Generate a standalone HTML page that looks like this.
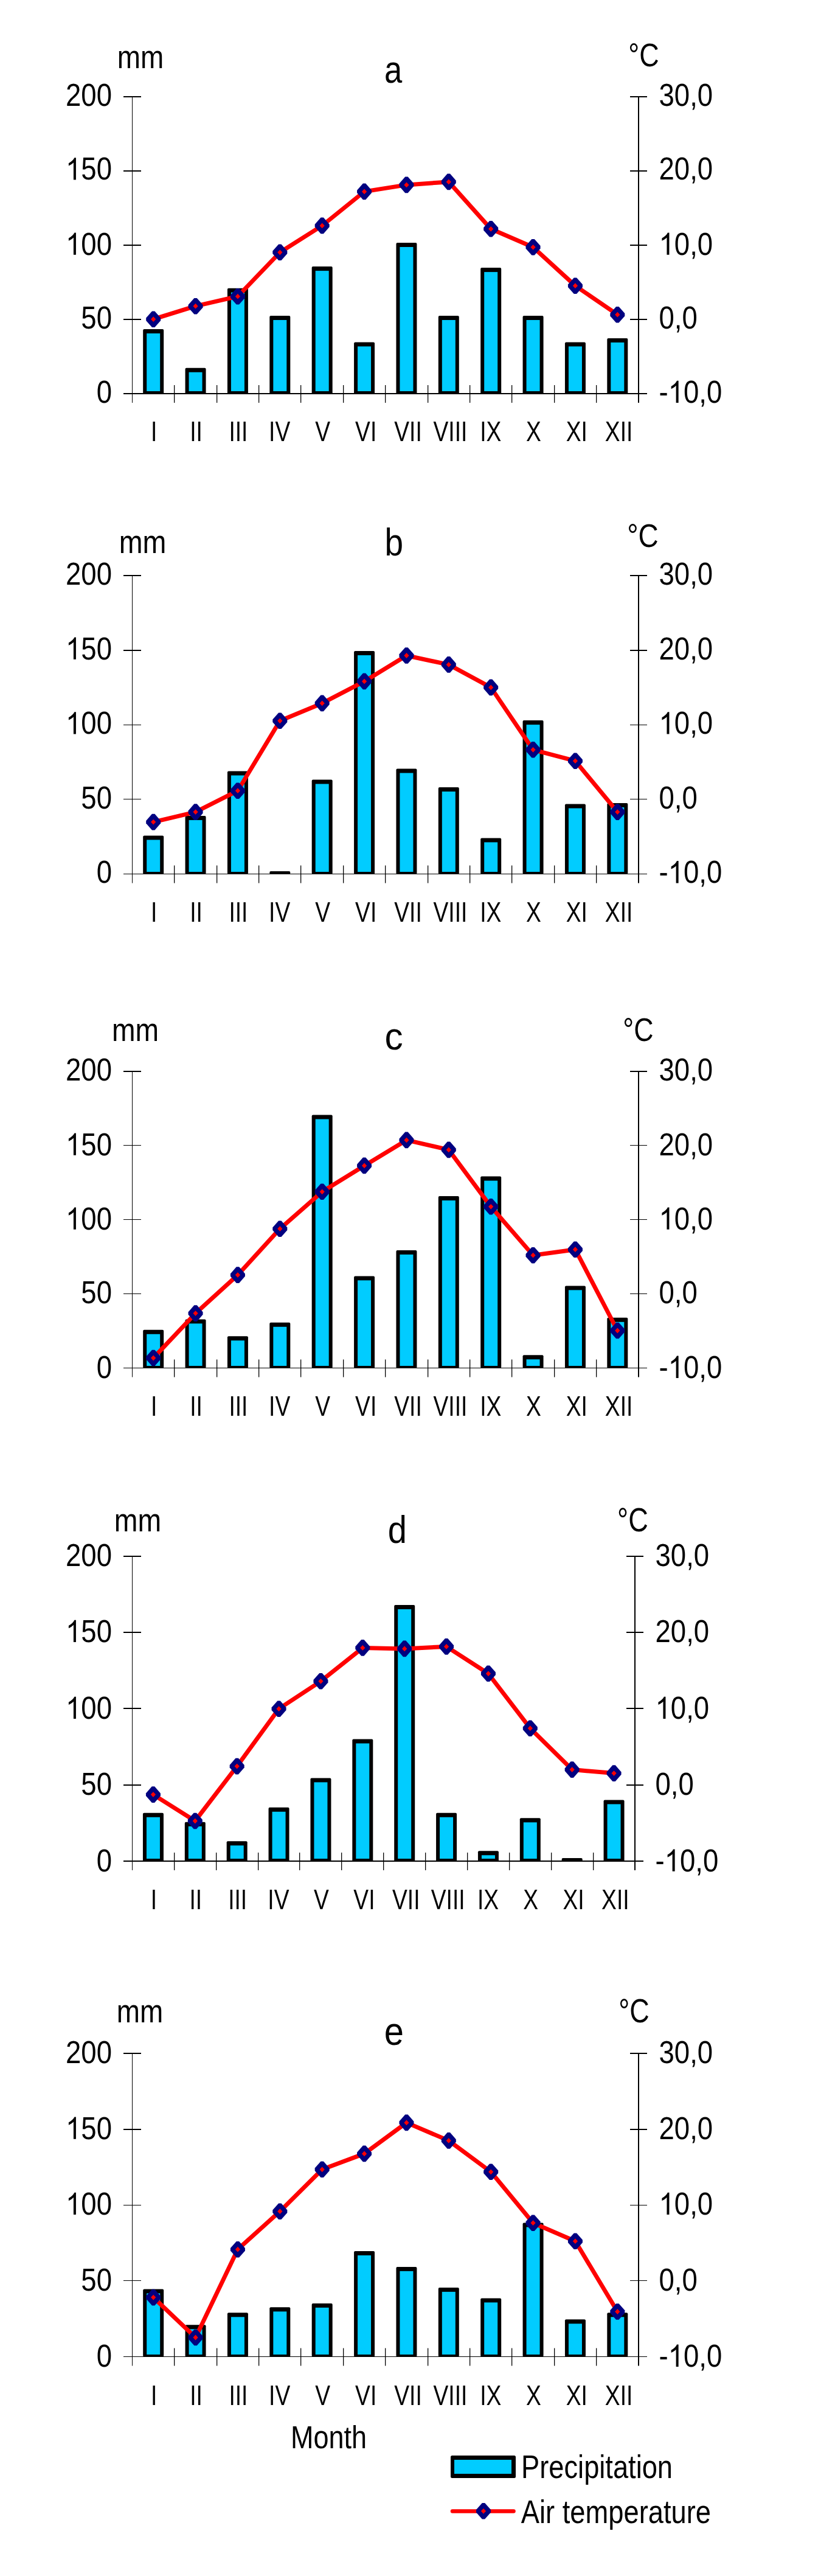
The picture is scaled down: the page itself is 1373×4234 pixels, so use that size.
<!DOCTYPE html>
<html><head><meta charset="utf-8"><style>
html,body{margin:0;padding:0;background:#fff;}
svg{display:block;}
text{font-family:"Liberation Sans",sans-serif;fill:#000;}
</style></head><body>
<svg width="1373" height="4234" viewBox="0 0 1373 4234">
<rect width="1373" height="4234" fill="#fff"/>
<g opacity="0.999">
<rect x="217.00" y="158.00" width="1.00" height="504.00" fill="#000"/>
<rect x="1049.00" y="158.00" width="2.00" height="504.00" fill="#000"/>
<rect x="203.00" y="158.00" width="29.00" height="2.00" fill="#000"/>
<rect x="1036.00" y="158.00" width="28.00" height="2.00" fill="#000"/>
<rect x="203.00" y="280.00" width="29.00" height="2.00" fill="#000"/>
<rect x="1036.00" y="280.00" width="28.00" height="2.00" fill="#000"/>
<rect x="203.00" y="402.00" width="29.00" height="2.00" fill="#000"/>
<rect x="1036.00" y="402.00" width="28.00" height="2.00" fill="#000"/>
<rect x="203.00" y="524.00" width="29.00" height="2.00" fill="#000"/>
<rect x="1036.00" y="524.00" width="28.00" height="2.00" fill="#000"/>
<rect x="203.00" y="646.00" width="861.00" height="2.00" fill="#000"/>
<rect x="286.00" y="633.00" width="1.30" height="29.00" fill="#000"/>
<rect x="356.00" y="633.00" width="1.30" height="29.00" fill="#000"/>
<rect x="425.00" y="633.00" width="1.30" height="29.00" fill="#000"/>
<rect x="494.00" y="633.00" width="1.30" height="29.00" fill="#000"/>
<rect x="564.00" y="633.00" width="1.30" height="29.00" fill="#000"/>
<rect x="633.00" y="633.00" width="1.30" height="29.00" fill="#000"/>
<rect x="703.00" y="633.00" width="1.30" height="29.00" fill="#000"/>
<rect x="772.00" y="633.00" width="1.30" height="29.00" fill="#000"/>
<rect x="841.00" y="633.00" width="1.30" height="29.00" fill="#000"/>
<rect x="911.00" y="633.00" width="1.30" height="29.00" fill="#000"/>
<rect x="980.00" y="633.00" width="1.30" height="29.00" fill="#000"/>
<rect x="235.19" y="541.00" width="34" height="107.00" rx="2" fill="#000"/>
<rect x="241.19" y="548.00" width="22.00" height="95.00" fill="#00ccff"/>
<rect x="304.56" y="604.80" width="34" height="43.20" rx="2" fill="#000"/>
<rect x="310.56" y="611.80" width="22.00" height="31.20" fill="#00ccff"/>
<rect x="373.94" y="473.70" width="34" height="174.30" rx="2" fill="#000"/>
<rect x="379.94" y="480.70" width="22.00" height="162.30" fill="#00ccff"/>
<rect x="443.31" y="519.00" width="34" height="129.00" rx="2" fill="#000"/>
<rect x="449.31" y="526.00" width="22.00" height="117.00" fill="#00ccff"/>
<rect x="512.69" y="438.10" width="34" height="209.90" rx="2" fill="#000"/>
<rect x="518.69" y="445.10" width="22.00" height="197.90" fill="#00ccff"/>
<rect x="582.06" y="562.40" width="34" height="85.60" rx="2" fill="#000"/>
<rect x="588.06" y="569.40" width="22.00" height="73.60" fill="#00ccff"/>
<rect x="651.44" y="399.00" width="34" height="249.00" rx="2" fill="#000"/>
<rect x="657.44" y="406.00" width="22.00" height="237.00" fill="#00ccff"/>
<rect x="720.81" y="519.00" width="34" height="129.00" rx="2" fill="#000"/>
<rect x="726.81" y="526.00" width="22.00" height="117.00" fill="#00ccff"/>
<rect x="790.19" y="440.10" width="34" height="207.90" rx="2" fill="#000"/>
<rect x="796.19" y="447.10" width="22.00" height="195.90" fill="#00ccff"/>
<rect x="859.56" y="519.00" width="34" height="129.00" rx="2" fill="#000"/>
<rect x="865.56" y="526.00" width="22.00" height="117.00" fill="#00ccff"/>
<rect x="928.94" y="562.40" width="34" height="85.60" rx="2" fill="#000"/>
<rect x="934.94" y="569.40" width="22.00" height="73.60" fill="#00ccff"/>
<rect x="998.31" y="555.90" width="34" height="92.10" rx="2" fill="#000"/>
<rect x="1004.31" y="562.90" width="22.00" height="80.10" fill="#00ccff"/>
<polyline points="252.19,524.70 321.56,503.20 390.94,487.20 460.31,414.80 529.69,370.90 599.06,314.90 668.44,303.90 737.81,298.90 807.19,376.30 876.56,406.30 945.94,469.70 1015.31,517.20" fill="none" stroke="#ff0000" stroke-width="7" stroke-linejoin="round"/>
<polygon points="249.99,511.40 254.39,511.40 264.19,522.50 264.19,526.90 254.39,538.00 249.99,538.00 240.19,526.90 240.19,522.50" fill="#000080"/>
<polygon points="252.19,520.30 256.29,524.70 252.19,529.10 248.09,524.70" fill="#ff0000"/>
<polygon points="319.36,489.90 323.76,489.90 333.56,501.00 333.56,505.40 323.76,516.50 319.36,516.50 309.56,505.40 309.56,501.00" fill="#000080"/>
<polygon points="321.56,498.80 325.66,503.20 321.56,507.60 317.46,503.20" fill="#ff0000"/>
<polygon points="388.74,473.90 393.14,473.90 402.94,485.00 402.94,489.40 393.14,500.50 388.74,500.50 378.94,489.40 378.94,485.00" fill="#000080"/>
<polygon points="390.94,482.80 395.04,487.20 390.94,491.60 386.84,487.20" fill="#ff0000"/>
<polygon points="458.11,401.50 462.51,401.50 472.31,412.60 472.31,417.00 462.51,428.10 458.11,428.10 448.31,417.00 448.31,412.60" fill="#000080"/>
<polygon points="460.31,410.40 464.41,414.80 460.31,419.20 456.21,414.80" fill="#ff0000"/>
<polygon points="527.49,357.60 531.89,357.60 541.69,368.70 541.69,373.10 531.89,384.20 527.49,384.20 517.69,373.10 517.69,368.70" fill="#000080"/>
<polygon points="529.69,366.50 533.79,370.90 529.69,375.30 525.59,370.90" fill="#ff0000"/>
<polygon points="596.86,301.60 601.26,301.60 611.06,312.70 611.06,317.10 601.26,328.20 596.86,328.20 587.06,317.10 587.06,312.70" fill="#000080"/>
<polygon points="599.06,310.50 603.16,314.90 599.06,319.30 594.96,314.90" fill="#ff0000"/>
<polygon points="666.24,290.60 670.64,290.60 680.44,301.70 680.44,306.10 670.64,317.20 666.24,317.20 656.44,306.10 656.44,301.70" fill="#000080"/>
<polygon points="668.44,299.50 672.54,303.90 668.44,308.30 664.34,303.90" fill="#ff0000"/>
<polygon points="735.61,285.60 740.01,285.60 749.81,296.70 749.81,301.10 740.01,312.20 735.61,312.20 725.81,301.10 725.81,296.70" fill="#000080"/>
<polygon points="737.81,294.50 741.91,298.90 737.81,303.30 733.71,298.90" fill="#ff0000"/>
<polygon points="804.99,363.00 809.39,363.00 819.19,374.10 819.19,378.50 809.39,389.60 804.99,389.60 795.19,378.50 795.19,374.10" fill="#000080"/>
<polygon points="807.19,371.90 811.29,376.30 807.19,380.70 803.09,376.30" fill="#ff0000"/>
<polygon points="874.36,393.00 878.76,393.00 888.56,404.10 888.56,408.50 878.76,419.60 874.36,419.60 864.56,408.50 864.56,404.10" fill="#000080"/>
<polygon points="876.56,401.90 880.66,406.30 876.56,410.70 872.46,406.30" fill="#ff0000"/>
<polygon points="943.74,456.40 948.14,456.40 957.94,467.50 957.94,471.90 948.14,483.00 943.74,483.00 933.94,471.90 933.94,467.50" fill="#000080"/>
<polygon points="945.94,465.30 950.04,469.70 945.94,474.10 941.84,469.70" fill="#ff0000"/>
<polygon points="1013.11,503.90 1017.51,503.90 1027.31,515.00 1027.31,519.40 1017.51,530.50 1013.11,530.50 1003.31,519.40 1003.31,515.00" fill="#000080"/>
<polygon points="1015.31,512.80 1019.41,517.20 1015.31,521.60 1011.21,517.20" fill="#ff0000"/>
<text transform="translate(107.94,173.58) scale(0.8650,1)" font-size="52.70">200</text>
<text transform="translate(1083.47,173.58) scale(0.8650,1)" font-size="52.70">30,0</text>
<path transform="translate(107.94,295.48) scale(0.02226,-0.02463)" d="M763,0L583,0L583,1147C540,1106 483,1064 413,1023C342,982 279,951 223,930L223,1104C324,1151 412,1209 487,1276C562,1343 615,1409 646,1472L763,1472Z"/>
<text transform="translate(133.29,295.48) scale(0.8650,1)" font-size="52.70">5</text>
<text transform="translate(158.65,295.48) scale(0.8650,1)" font-size="52.70">0</text>
<text transform="translate(1083.47,295.48) scale(0.8650,1)" font-size="52.70">20,0</text>
<path transform="translate(107.94,418.68) scale(0.02226,-0.02463)" d="M763,0L583,0L583,1147C540,1106 483,1064 413,1023C342,982 279,951 223,930L223,1104C324,1151 412,1209 487,1276C562,1343 615,1409 646,1472L763,1472Z"/>
<text transform="translate(133.29,418.68) scale(0.8650,1)" font-size="52.70">0</text>
<text transform="translate(158.65,418.68) scale(0.8650,1)" font-size="52.70">0</text>
<path transform="translate(1083.47,418.68) scale(0.02226,-0.02463)" d="M763,0L583,0L583,1147C540,1106 483,1064 413,1023C342,982 279,951 223,930L223,1104C324,1151 412,1209 487,1276C562,1343 615,1409 646,1472L763,1472Z"/>
<text transform="translate(1108.82,418.68) scale(0.8650,1)" font-size="52.70">0</text>
<text transform="translate(1134.17,418.68) scale(0.8650,1)" font-size="52.70">,</text>
<text transform="translate(1146.84,418.68) scale(0.8650,1)" font-size="52.70">0</text>
<text transform="translate(133.29,540.38) scale(0.8650,1)" font-size="52.70">50</text>
<text transform="translate(1083.47,540.38) scale(0.8650,1)" font-size="52.70">0,0</text>
<text transform="translate(158.63,662.08) scale(0.8650,1)" font-size="52.70">0</text>
<text transform="translate(1083.47,662.08) scale(0.8650,1)" font-size="52.70">-</text>
<path transform="translate(1098.65,662.08) scale(0.02226,-0.02463)" d="M763,0L583,0L583,1147C540,1106 483,1064 413,1023C342,982 279,951 223,930L223,1104C324,1151 412,1209 487,1276C562,1343 615,1409 646,1472L763,1472Z"/>
<text transform="translate(1124.00,662.08) scale(0.8650,1)" font-size="52.70">0</text>
<text transform="translate(1149.35,662.08) scale(0.8650,1)" font-size="52.70">,</text>
<text transform="translate(1162.02,662.08) scale(0.8650,1)" font-size="52.70">0</text>
<text transform="translate(248.02,724.89) scale(0.8000,1)" font-size="46.50">I</text>
<text transform="translate(312.22,724.89) scale(0.8000,1)" font-size="46.50">II</text>
<text transform="translate(376.43,724.89) scale(0.8000,1)" font-size="46.50">III</text>
<text transform="translate(442.12,724.89) scale(0.8000,1)" font-size="46.50">IV</text>
<text transform="translate(518.28,724.89) scale(0.8000,1)" font-size="46.50">V</text>
<text transform="translate(584.10,724.89) scale(0.8000,1)" font-size="46.50">VI</text>
<text transform="translate(648.31,724.89) scale(0.8000,1)" font-size="46.50">VII</text>
<text transform="translate(712.51,724.89) scale(0.8000,1)" font-size="46.50">VIII</text>
<text transform="translate(789.29,724.89) scale(0.8000,1)" font-size="46.50">IX</text>
<text transform="translate(865.12,724.89) scale(0.8000,1)" font-size="46.50">X</text>
<text transform="translate(930.64,724.89) scale(0.8000,1)" font-size="46.50">XI</text>
<text transform="translate(994.85,724.89) scale(0.8000,1)" font-size="46.50">XII</text>
<text transform="translate(192.77,111.90) scale(0.8787,1)" font-size="52.23">mm</text>
<text transform="translate(631.89,135.67) scale(0.8368,1)" font-size="62.77">a</text>
<text transform="translate(1033.30,108.86) scale(0.8282,1)" font-size="54.24">°C</text>
<rect x="217.00" y="945.00" width="1.00" height="506.50" fill="#000"/>
<rect x="1049.00" y="945.00" width="2.00" height="506.50" fill="#000"/>
<rect x="203.00" y="945.00" width="29.00" height="2.00" fill="#000"/>
<rect x="1036.00" y="945.00" width="28.00" height="2.00" fill="#000"/>
<rect x="203.00" y="1068.00" width="29.00" height="2.00" fill="#000"/>
<rect x="1036.00" y="1068.00" width="28.00" height="2.00" fill="#000"/>
<rect x="203.00" y="1191.00" width="29.00" height="1.00" fill="#000"/>
<rect x="1036.00" y="1191.00" width="28.00" height="1.00" fill="#000"/>
<rect x="203.00" y="1313.00" width="29.00" height="1.00" fill="#000"/>
<rect x="1036.00" y="1313.00" width="28.00" height="1.00" fill="#000"/>
<rect x="203.00" y="1436.00" width="861.00" height="1.00" fill="#000"/>
<rect x="286.00" y="1422.50" width="1.30" height="29.00" fill="#000"/>
<rect x="356.00" y="1422.50" width="1.30" height="29.00" fill="#000"/>
<rect x="425.00" y="1422.50" width="1.30" height="29.00" fill="#000"/>
<rect x="494.00" y="1422.50" width="1.30" height="29.00" fill="#000"/>
<rect x="564.00" y="1422.50" width="1.30" height="29.00" fill="#000"/>
<rect x="633.00" y="1422.50" width="1.30" height="29.00" fill="#000"/>
<rect x="703.00" y="1422.50" width="1.30" height="29.00" fill="#000"/>
<rect x="772.00" y="1422.50" width="1.30" height="29.00" fill="#000"/>
<rect x="841.00" y="1422.50" width="1.30" height="29.00" fill="#000"/>
<rect x="911.00" y="1422.50" width="1.30" height="29.00" fill="#000"/>
<rect x="980.00" y="1422.50" width="1.30" height="29.00" fill="#000"/>
<rect x="235.19" y="1373.40" width="34" height="63.60" rx="2" fill="#000"/>
<rect x="241.19" y="1380.40" width="22.00" height="52.60" fill="#00ccff"/>
<rect x="304.56" y="1340.90" width="34" height="96.10" rx="2" fill="#000"/>
<rect x="310.56" y="1347.90" width="22.00" height="85.10" fill="#00ccff"/>
<rect x="373.94" y="1267.50" width="34" height="169.50" rx="2" fill="#000"/>
<rect x="379.94" y="1274.50" width="22.00" height="158.50" fill="#00ccff"/>
<rect x="443.31" y="1432.00" width="34" height="5.00" rx="2" fill="#000"/>
<rect x="512.69" y="1281.50" width="34" height="155.50" rx="2" fill="#000"/>
<rect x="518.69" y="1288.50" width="22.00" height="144.50" fill="#00ccff"/>
<rect x="582.06" y="1070.00" width="34" height="367.00" rx="2" fill="#000"/>
<rect x="588.06" y="1077.00" width="22.00" height="356.00" fill="#00ccff"/>
<rect x="651.44" y="1263.50" width="34" height="173.50" rx="2" fill="#000"/>
<rect x="657.44" y="1270.50" width="22.00" height="162.50" fill="#00ccff"/>
<rect x="720.81" y="1294.00" width="34" height="143.00" rx="2" fill="#000"/>
<rect x="726.81" y="1301.00" width="22.00" height="132.00" fill="#00ccff"/>
<rect x="790.19" y="1377.40" width="34" height="59.60" rx="2" fill="#000"/>
<rect x="796.19" y="1384.40" width="22.00" height="48.60" fill="#00ccff"/>
<rect x="859.56" y="1184.10" width="34" height="252.90" rx="2" fill="#000"/>
<rect x="865.56" y="1191.10" width="22.00" height="241.90" fill="#00ccff"/>
<rect x="928.94" y="1321.50" width="34" height="115.50" rx="2" fill="#000"/>
<rect x="934.94" y="1328.50" width="22.00" height="104.50" fill="#00ccff"/>
<rect x="998.31" y="1320.00" width="34" height="117.00" rx="2" fill="#000"/>
<rect x="1004.31" y="1327.00" width="22.00" height="106.00" fill="#00ccff"/>
<polyline points="252.19,1351.10 321.56,1334.60 390.94,1299.70 460.31,1184.80 529.69,1155.90 599.06,1119.90 668.44,1077.50 737.81,1092.40 807.19,1129.90 876.56,1232.30 945.94,1250.70 1015.31,1334.60" fill="none" stroke="#ff0000" stroke-width="7" stroke-linejoin="round"/>
<polygon points="249.99,1337.80 254.39,1337.80 264.19,1348.90 264.19,1353.30 254.39,1364.40 249.99,1364.40 240.19,1353.30 240.19,1348.90" fill="#000080"/>
<polygon points="252.19,1346.70 256.29,1351.10 252.19,1355.50 248.09,1351.10" fill="#ff0000"/>
<polygon points="319.36,1321.30 323.76,1321.30 333.56,1332.40 333.56,1336.80 323.76,1347.90 319.36,1347.90 309.56,1336.80 309.56,1332.40" fill="#000080"/>
<polygon points="321.56,1330.20 325.66,1334.60 321.56,1339.00 317.46,1334.60" fill="#ff0000"/>
<polygon points="388.74,1286.40 393.14,1286.40 402.94,1297.50 402.94,1301.90 393.14,1313.00 388.74,1313.00 378.94,1301.90 378.94,1297.50" fill="#000080"/>
<polygon points="390.94,1295.30 395.04,1299.70 390.94,1304.10 386.84,1299.70" fill="#ff0000"/>
<polygon points="458.11,1171.50 462.51,1171.50 472.31,1182.60 472.31,1187.00 462.51,1198.10 458.11,1198.10 448.31,1187.00 448.31,1182.60" fill="#000080"/>
<polygon points="460.31,1180.40 464.41,1184.80 460.31,1189.20 456.21,1184.80" fill="#ff0000"/>
<polygon points="527.49,1142.60 531.89,1142.60 541.69,1153.70 541.69,1158.10 531.89,1169.20 527.49,1169.20 517.69,1158.10 517.69,1153.70" fill="#000080"/>
<polygon points="529.69,1151.50 533.79,1155.90 529.69,1160.30 525.59,1155.90" fill="#ff0000"/>
<polygon points="596.86,1106.60 601.26,1106.60 611.06,1117.70 611.06,1122.10 601.26,1133.20 596.86,1133.20 587.06,1122.10 587.06,1117.70" fill="#000080"/>
<polygon points="599.06,1115.50 603.16,1119.90 599.06,1124.30 594.96,1119.90" fill="#ff0000"/>
<polygon points="666.24,1064.20 670.64,1064.20 680.44,1075.30 680.44,1079.70 670.64,1090.80 666.24,1090.80 656.44,1079.70 656.44,1075.30" fill="#000080"/>
<polygon points="668.44,1073.10 672.54,1077.50 668.44,1081.90 664.34,1077.50" fill="#ff0000"/>
<polygon points="735.61,1079.10 740.01,1079.10 749.81,1090.20 749.81,1094.60 740.01,1105.70 735.61,1105.70 725.81,1094.60 725.81,1090.20" fill="#000080"/>
<polygon points="737.81,1088.00 741.91,1092.40 737.81,1096.80 733.71,1092.40" fill="#ff0000"/>
<polygon points="804.99,1116.60 809.39,1116.60 819.19,1127.70 819.19,1132.10 809.39,1143.20 804.99,1143.20 795.19,1132.10 795.19,1127.70" fill="#000080"/>
<polygon points="807.19,1125.50 811.29,1129.90 807.19,1134.30 803.09,1129.90" fill="#ff0000"/>
<polygon points="874.36,1219.00 878.76,1219.00 888.56,1230.10 888.56,1234.50 878.76,1245.60 874.36,1245.60 864.56,1234.50 864.56,1230.10" fill="#000080"/>
<polygon points="876.56,1227.90 880.66,1232.30 876.56,1236.70 872.46,1232.30" fill="#ff0000"/>
<polygon points="943.74,1237.40 948.14,1237.40 957.94,1248.50 957.94,1252.90 948.14,1264.00 943.74,1264.00 933.94,1252.90 933.94,1248.50" fill="#000080"/>
<polygon points="945.94,1246.30 950.04,1250.70 945.94,1255.10 941.84,1250.70" fill="#ff0000"/>
<polygon points="1013.11,1321.30 1017.51,1321.30 1027.31,1332.40 1027.31,1336.80 1017.51,1347.90 1013.11,1347.90 1003.31,1336.80 1003.31,1332.40" fill="#000080"/>
<polygon points="1015.31,1330.20 1019.41,1334.60 1015.31,1339.00 1011.21,1334.60" fill="#ff0000"/>
<text transform="translate(107.94,960.78) scale(0.8650,1)" font-size="52.70">200</text>
<text transform="translate(1083.47,960.78) scale(0.8650,1)" font-size="52.70">30,0</text>
<path transform="translate(107.94,1083.68) scale(0.02226,-0.02463)" d="M763,0L583,0L583,1147C540,1106 483,1064 413,1023C342,982 279,951 223,930L223,1104C324,1151 412,1209 487,1276C562,1343 615,1409 646,1472L763,1472Z"/>
<text transform="translate(133.29,1083.68) scale(0.8650,1)" font-size="52.70">5</text>
<text transform="translate(158.65,1083.68) scale(0.8650,1)" font-size="52.70">0</text>
<text transform="translate(1083.47,1083.68) scale(0.8650,1)" font-size="52.70">20,0</text>
<path transform="translate(107.94,1206.48) scale(0.02226,-0.02463)" d="M763,0L583,0L583,1147C540,1106 483,1064 413,1023C342,982 279,951 223,930L223,1104C324,1151 412,1209 487,1276C562,1343 615,1409 646,1472L763,1472Z"/>
<text transform="translate(133.29,1206.48) scale(0.8650,1)" font-size="52.70">0</text>
<text transform="translate(158.65,1206.48) scale(0.8650,1)" font-size="52.70">0</text>
<path transform="translate(1083.47,1206.48) scale(0.02226,-0.02463)" d="M763,0L583,0L583,1147C540,1106 483,1064 413,1023C342,982 279,951 223,930L223,1104C324,1151 412,1209 487,1276C562,1343 615,1409 646,1472L763,1472Z"/>
<text transform="translate(1108.82,1206.48) scale(0.8650,1)" font-size="52.70">0</text>
<text transform="translate(1134.17,1206.48) scale(0.8650,1)" font-size="52.70">,</text>
<text transform="translate(1146.84,1206.48) scale(0.8650,1)" font-size="52.70">0</text>
<text transform="translate(133.29,1328.58) scale(0.8650,1)" font-size="52.70">50</text>
<text transform="translate(1083.47,1328.58) scale(0.8650,1)" font-size="52.70">0,0</text>
<text transform="translate(158.63,1451.38) scale(0.8650,1)" font-size="52.70">0</text>
<text transform="translate(1083.47,1451.38) scale(0.8650,1)" font-size="52.70">-</text>
<path transform="translate(1098.65,1451.38) scale(0.02226,-0.02463)" d="M763,0L583,0L583,1147C540,1106 483,1064 413,1023C342,982 279,951 223,930L223,1104C324,1151 412,1209 487,1276C562,1343 615,1409 646,1472L763,1472Z"/>
<text transform="translate(1124.00,1451.38) scale(0.8650,1)" font-size="52.70">0</text>
<text transform="translate(1149.35,1451.38) scale(0.8650,1)" font-size="52.70">,</text>
<text transform="translate(1162.02,1451.38) scale(0.8650,1)" font-size="52.70">0</text>
<text transform="translate(248.02,1514.74) scale(0.8000,1)" font-size="46.50">I</text>
<text transform="translate(312.22,1514.74) scale(0.8000,1)" font-size="46.50">II</text>
<text transform="translate(376.43,1514.74) scale(0.8000,1)" font-size="46.50">III</text>
<text transform="translate(442.12,1514.74) scale(0.8000,1)" font-size="46.50">IV</text>
<text transform="translate(518.28,1514.74) scale(0.8000,1)" font-size="46.50">V</text>
<text transform="translate(584.10,1514.74) scale(0.8000,1)" font-size="46.50">VI</text>
<text transform="translate(648.31,1514.74) scale(0.8000,1)" font-size="46.50">VII</text>
<text transform="translate(712.51,1514.74) scale(0.8000,1)" font-size="46.50">VIII</text>
<text transform="translate(789.29,1514.74) scale(0.8000,1)" font-size="46.50">IX</text>
<text transform="translate(865.12,1514.74) scale(0.8000,1)" font-size="46.50">X</text>
<text transform="translate(930.64,1514.74) scale(0.8000,1)" font-size="46.50">XI</text>
<text transform="translate(994.85,1514.74) scale(0.8000,1)" font-size="46.50">XII</text>
<text transform="translate(195.72,909.10) scale(0.8830,1)" font-size="52.79">mm</text>
<text transform="translate(632.52,913.18) scale(0.8809,1)" font-size="62.45">b</text>
<text transform="translate(1031.25,898.86) scale(0.8463,1)" font-size="54.24">°C</text>
<rect x="217.00" y="1760.00" width="1.00" height="503.50" fill="#000"/>
<rect x="1049.00" y="1760.00" width="2.00" height="503.50" fill="#000"/>
<rect x="203.00" y="1760.00" width="29.00" height="2.00" fill="#000"/>
<rect x="1036.00" y="1760.00" width="28.00" height="2.00" fill="#000"/>
<rect x="203.00" y="1882.00" width="29.00" height="1.00" fill="#000"/>
<rect x="1036.00" y="1882.00" width="28.00" height="1.00" fill="#000"/>
<rect x="203.00" y="2004.00" width="29.00" height="1.00" fill="#000"/>
<rect x="1036.00" y="2004.00" width="28.00" height="1.00" fill="#000"/>
<rect x="203.00" y="2126.00" width="29.00" height="1.00" fill="#000"/>
<rect x="1036.00" y="2126.00" width="28.00" height="1.00" fill="#000"/>
<rect x="203.00" y="2248.00" width="861.00" height="1.00" fill="#000"/>
<rect x="286.00" y="2234.50" width="1.30" height="29.00" fill="#000"/>
<rect x="356.00" y="2234.50" width="1.30" height="29.00" fill="#000"/>
<rect x="425.00" y="2234.50" width="1.30" height="29.00" fill="#000"/>
<rect x="494.00" y="2234.50" width="1.30" height="29.00" fill="#000"/>
<rect x="564.00" y="2234.50" width="1.30" height="29.00" fill="#000"/>
<rect x="633.00" y="2234.50" width="1.30" height="29.00" fill="#000"/>
<rect x="703.00" y="2234.50" width="1.30" height="29.00" fill="#000"/>
<rect x="772.00" y="2234.50" width="1.30" height="29.00" fill="#000"/>
<rect x="841.00" y="2234.50" width="1.30" height="29.00" fill="#000"/>
<rect x="911.00" y="2234.50" width="1.30" height="29.00" fill="#000"/>
<rect x="980.00" y="2234.50" width="1.30" height="29.00" fill="#000"/>
<rect x="235.19" y="2185.80" width="34" height="63.20" rx="2" fill="#000"/>
<rect x="241.19" y="2192.80" width="22.00" height="52.20" fill="#00ccff"/>
<rect x="304.56" y="2168.40" width="34" height="80.60" rx="2" fill="#000"/>
<rect x="310.56" y="2175.40" width="22.00" height="69.60" fill="#00ccff"/>
<rect x="373.94" y="2196.30" width="34" height="52.70" rx="2" fill="#000"/>
<rect x="379.94" y="2203.30" width="22.00" height="41.70" fill="#00ccff"/>
<rect x="443.31" y="2173.80" width="34" height="75.20" rx="2" fill="#000"/>
<rect x="449.31" y="2180.80" width="22.00" height="64.20" fill="#00ccff"/>
<rect x="512.69" y="1832.50" width="34" height="416.50" rx="2" fill="#000"/>
<rect x="518.69" y="1839.50" width="22.00" height="405.50" fill="#00ccff"/>
<rect x="582.06" y="2097.40" width="34" height="151.60" rx="2" fill="#000"/>
<rect x="588.06" y="2104.40" width="22.00" height="140.60" fill="#00ccff"/>
<rect x="651.44" y="2055.00" width="34" height="194.00" rx="2" fill="#000"/>
<rect x="657.44" y="2062.00" width="22.00" height="183.00" fill="#00ccff"/>
<rect x="720.81" y="1966.10" width="34" height="282.90" rx="2" fill="#000"/>
<rect x="726.81" y="1973.10" width="22.00" height="271.90" fill="#00ccff"/>
<rect x="790.19" y="1933.60" width="34" height="315.40" rx="2" fill="#000"/>
<rect x="796.19" y="1940.60" width="22.00" height="304.40" fill="#00ccff"/>
<rect x="859.56" y="2227.30" width="34" height="21.70" rx="2" fill="#000"/>
<rect x="865.56" y="2234.30" width="22.00" height="10.70" fill="#00ccff"/>
<rect x="928.94" y="2113.40" width="34" height="135.60" rx="2" fill="#000"/>
<rect x="934.94" y="2120.40" width="22.00" height="124.60" fill="#00ccff"/>
<rect x="998.31" y="2165.80" width="34" height="83.20" rx="2" fill="#000"/>
<rect x="1004.31" y="2172.80" width="22.00" height="72.20" fill="#00ccff"/>
<polyline points="252.19,2232.00 321.56,2158.60 390.94,2095.60 460.31,2019.70 529.69,1958.80 599.06,1915.90 668.44,1873.90 737.81,1889.90 807.19,1983.30 876.56,2063.20 945.94,2053.70 1015.31,2187.00" fill="none" stroke="#ff0000" stroke-width="7" stroke-linejoin="round"/>
<polygon points="249.99,2218.70 254.39,2218.70 264.19,2229.80 264.19,2234.20 254.39,2245.30 249.99,2245.30 240.19,2234.20 240.19,2229.80" fill="#000080"/>
<polygon points="252.19,2227.60 256.29,2232.00 252.19,2236.40 248.09,2232.00" fill="#ff0000"/>
<polygon points="319.36,2145.30 323.76,2145.30 333.56,2156.40 333.56,2160.80 323.76,2171.90 319.36,2171.90 309.56,2160.80 309.56,2156.40" fill="#000080"/>
<polygon points="321.56,2154.20 325.66,2158.60 321.56,2163.00 317.46,2158.60" fill="#ff0000"/>
<polygon points="388.74,2082.30 393.14,2082.30 402.94,2093.40 402.94,2097.80 393.14,2108.90 388.74,2108.90 378.94,2097.80 378.94,2093.40" fill="#000080"/>
<polygon points="390.94,2091.20 395.04,2095.60 390.94,2100.00 386.84,2095.60" fill="#ff0000"/>
<polygon points="458.11,2006.40 462.51,2006.40 472.31,2017.50 472.31,2021.90 462.51,2033.00 458.11,2033.00 448.31,2021.90 448.31,2017.50" fill="#000080"/>
<polygon points="460.31,2015.30 464.41,2019.70 460.31,2024.10 456.21,2019.70" fill="#ff0000"/>
<polygon points="527.49,1945.50 531.89,1945.50 541.69,1956.60 541.69,1961.00 531.89,1972.10 527.49,1972.10 517.69,1961.00 517.69,1956.60" fill="#000080"/>
<polygon points="529.69,1954.40 533.79,1958.80 529.69,1963.20 525.59,1958.80" fill="#ff0000"/>
<polygon points="596.86,1902.60 601.26,1902.60 611.06,1913.70 611.06,1918.10 601.26,1929.20 596.86,1929.20 587.06,1918.10 587.06,1913.70" fill="#000080"/>
<polygon points="599.06,1911.50 603.16,1915.90 599.06,1920.30 594.96,1915.90" fill="#ff0000"/>
<polygon points="666.24,1860.60 670.64,1860.60 680.44,1871.70 680.44,1876.10 670.64,1887.20 666.24,1887.20 656.44,1876.10 656.44,1871.70" fill="#000080"/>
<polygon points="668.44,1869.50 672.54,1873.90 668.44,1878.30 664.34,1873.90" fill="#ff0000"/>
<polygon points="735.61,1876.60 740.01,1876.60 749.81,1887.70 749.81,1892.10 740.01,1903.20 735.61,1903.20 725.81,1892.10 725.81,1887.70" fill="#000080"/>
<polygon points="737.81,1885.50 741.91,1889.90 737.81,1894.30 733.71,1889.90" fill="#ff0000"/>
<polygon points="804.99,1970.00 809.39,1970.00 819.19,1981.10 819.19,1985.50 809.39,1996.60 804.99,1996.60 795.19,1985.50 795.19,1981.10" fill="#000080"/>
<polygon points="807.19,1978.90 811.29,1983.30 807.19,1987.70 803.09,1983.30" fill="#ff0000"/>
<polygon points="874.36,2049.90 878.76,2049.90 888.56,2061.00 888.56,2065.40 878.76,2076.50 874.36,2076.50 864.56,2065.40 864.56,2061.00" fill="#000080"/>
<polygon points="876.56,2058.80 880.66,2063.20 876.56,2067.60 872.46,2063.20" fill="#ff0000"/>
<polygon points="943.74,2040.40 948.14,2040.40 957.94,2051.50 957.94,2055.90 948.14,2067.00 943.74,2067.00 933.94,2055.90 933.94,2051.50" fill="#000080"/>
<polygon points="945.94,2049.30 950.04,2053.70 945.94,2058.10 941.84,2053.70" fill="#ff0000"/>
<polygon points="1013.11,2173.70 1017.51,2173.70 1027.31,2184.80 1027.31,2189.20 1017.51,2200.30 1013.11,2200.30 1003.31,2189.20 1003.31,2184.80" fill="#000080"/>
<polygon points="1015.31,2182.60 1019.41,2187.00 1015.31,2191.40 1011.21,2187.00" fill="#ff0000"/>
<text transform="translate(107.94,1776.38) scale(0.8650,1)" font-size="52.70">200</text>
<text transform="translate(1083.47,1776.38) scale(0.8650,1)" font-size="52.70">30,0</text>
<path transform="translate(107.94,1898.68) scale(0.02226,-0.02463)" d="M763,0L583,0L583,1147C540,1106 483,1064 413,1023C342,982 279,951 223,930L223,1104C324,1151 412,1209 487,1276C562,1343 615,1409 646,1472L763,1472Z"/>
<text transform="translate(133.29,1898.68) scale(0.8650,1)" font-size="52.70">5</text>
<text transform="translate(158.65,1898.68) scale(0.8650,1)" font-size="52.70">0</text>
<text transform="translate(1083.47,1898.68) scale(0.8650,1)" font-size="52.70">20,0</text>
<path transform="translate(107.94,2020.78) scale(0.02226,-0.02463)" d="M763,0L583,0L583,1147C540,1106 483,1064 413,1023C342,982 279,951 223,930L223,1104C324,1151 412,1209 487,1276C562,1343 615,1409 646,1472L763,1472Z"/>
<text transform="translate(133.29,2020.78) scale(0.8650,1)" font-size="52.70">0</text>
<text transform="translate(158.65,2020.78) scale(0.8650,1)" font-size="52.70">0</text>
<path transform="translate(1083.47,2020.78) scale(0.02226,-0.02463)" d="M763,0L583,0L583,1147C540,1106 483,1064 413,1023C342,982 279,951 223,930L223,1104C324,1151 412,1209 487,1276C562,1343 615,1409 646,1472L763,1472Z"/>
<text transform="translate(1108.82,2020.78) scale(0.8650,1)" font-size="52.70">0</text>
<text transform="translate(1134.17,2020.78) scale(0.8650,1)" font-size="52.70">,</text>
<text transform="translate(1146.84,2020.78) scale(0.8650,1)" font-size="52.70">0</text>
<text transform="translate(133.29,2142.48) scale(0.8650,1)" font-size="52.70">50</text>
<text transform="translate(1083.47,2142.48) scale(0.8650,1)" font-size="52.70">0,0</text>
<text transform="translate(158.63,2264.88) scale(0.8650,1)" font-size="52.70">0</text>
<text transform="translate(1083.47,2264.88) scale(0.8650,1)" font-size="52.70">-</text>
<path transform="translate(1098.65,2264.88) scale(0.02226,-0.02463)" d="M763,0L583,0L583,1147C540,1106 483,1064 413,1023C342,982 279,951 223,930L223,1104C324,1151 412,1209 487,1276C562,1343 615,1409 646,1472L763,1472Z"/>
<text transform="translate(1124.00,2264.88) scale(0.8650,1)" font-size="52.70">0</text>
<text transform="translate(1149.35,2264.88) scale(0.8650,1)" font-size="52.70">,</text>
<text transform="translate(1162.02,2264.88) scale(0.8650,1)" font-size="52.70">0</text>
<text transform="translate(248.02,2326.79) scale(0.8000,1)" font-size="46.50">I</text>
<text transform="translate(312.22,2326.79) scale(0.8000,1)" font-size="46.50">II</text>
<text transform="translate(376.43,2326.79) scale(0.8000,1)" font-size="46.50">III</text>
<text transform="translate(442.12,2326.79) scale(0.8000,1)" font-size="46.50">IV</text>
<text transform="translate(518.28,2326.79) scale(0.8000,1)" font-size="46.50">V</text>
<text transform="translate(584.10,2326.79) scale(0.8000,1)" font-size="46.50">VI</text>
<text transform="translate(648.31,2326.79) scale(0.8000,1)" font-size="46.50">VII</text>
<text transform="translate(712.51,2326.79) scale(0.8000,1)" font-size="46.50">VIII</text>
<text transform="translate(789.29,2326.79) scale(0.8000,1)" font-size="46.50">IX</text>
<text transform="translate(865.12,2326.79) scale(0.8000,1)" font-size="46.50">X</text>
<text transform="translate(930.64,2326.79) scale(0.8000,1)" font-size="46.50">XI</text>
<text transform="translate(994.85,2326.79) scale(0.8000,1)" font-size="46.50">XII</text>
<text transform="translate(183.95,1711.00) scale(0.8676,1)" font-size="53.35">mm</text>
<text transform="translate(632.46,1725.07) scale(0.9541,1)" font-size="63.32">c</text>
<text transform="translate(1024.32,1710.95) scale(0.8204,1)" font-size="54.52">°C</text>
<rect x="217.00" y="2557.00" width="1.00" height="517.00" fill="#000"/>
<rect x="1043.00" y="2557.00" width="2.00" height="517.00" fill="#000"/>
<rect x="203.00" y="2557.00" width="29.00" height="2.00" fill="#000"/>
<rect x="1030.00" y="2557.00" width="28.00" height="2.00" fill="#000"/>
<rect x="203.00" y="2682.00" width="29.00" height="2.00" fill="#000"/>
<rect x="1030.00" y="2682.00" width="28.00" height="2.00" fill="#000"/>
<rect x="203.00" y="2807.00" width="29.00" height="2.00" fill="#000"/>
<rect x="1030.00" y="2807.00" width="28.00" height="2.00" fill="#000"/>
<rect x="203.00" y="2933.00" width="29.00" height="2.00" fill="#000"/>
<rect x="1030.00" y="2933.00" width="28.00" height="2.00" fill="#000"/>
<rect x="203.00" y="3058.00" width="855.00" height="2.00" fill="#000"/>
<rect x="286.00" y="3045.00" width="1.30" height="29.00" fill="#000"/>
<rect x="355.00" y="3045.00" width="1.30" height="29.00" fill="#000"/>
<rect x="424.00" y="3045.00" width="1.30" height="29.00" fill="#000"/>
<rect x="492.00" y="3045.00" width="1.30" height="29.00" fill="#000"/>
<rect x="561.00" y="3045.00" width="1.30" height="29.00" fill="#000"/>
<rect x="630.00" y="3045.00" width="1.30" height="29.00" fill="#000"/>
<rect x="699.00" y="3045.00" width="1.30" height="29.00" fill="#000"/>
<rect x="768.00" y="3045.00" width="1.30" height="29.00" fill="#000"/>
<rect x="837.00" y="3045.00" width="1.30" height="29.00" fill="#000"/>
<rect x="906.00" y="3045.00" width="1.30" height="29.00" fill="#000"/>
<rect x="975.00" y="3045.00" width="1.30" height="29.00" fill="#000"/>
<rect x="234.94" y="2979.80" width="34" height="80.20" rx="2" fill="#000"/>
<rect x="240.94" y="2986.80" width="22.00" height="68.20" fill="#00ccff"/>
<rect x="303.81" y="2994.80" width="34" height="65.20" rx="2" fill="#000"/>
<rect x="309.81" y="3001.80" width="22.00" height="53.20" fill="#00ccff"/>
<rect x="372.69" y="3026.30" width="34" height="33.70" rx="2" fill="#000"/>
<rect x="378.69" y="3033.30" width="22.00" height="21.70" fill="#00ccff"/>
<rect x="441.56" y="2970.80" width="34" height="89.20" rx="2" fill="#000"/>
<rect x="447.56" y="2977.80" width="22.00" height="77.20" fill="#00ccff"/>
<rect x="510.44" y="2922.40" width="34" height="137.60" rx="2" fill="#000"/>
<rect x="516.44" y="2929.40" width="22.00" height="125.60" fill="#00ccff"/>
<rect x="579.31" y="2858.50" width="34" height="201.50" rx="2" fill="#000"/>
<rect x="585.31" y="2865.50" width="22.00" height="189.50" fill="#00ccff"/>
<rect x="648.19" y="2638.00" width="34" height="422.00" rx="2" fill="#000"/>
<rect x="654.19" y="2645.00" width="22.00" height="410.00" fill="#00ccff"/>
<rect x="717.06" y="2979.80" width="34" height="80.20" rx="2" fill="#000"/>
<rect x="723.06" y="2986.80" width="22.00" height="68.20" fill="#00ccff"/>
<rect x="785.94" y="3042.30" width="34" height="17.70" rx="2" fill="#000"/>
<rect x="791.94" y="3049.30" width="22.00" height="5.70" fill="#00ccff"/>
<rect x="854.81" y="2988.30" width="34" height="71.70" rx="2" fill="#000"/>
<rect x="860.81" y="2995.30" width="22.00" height="59.70" fill="#00ccff"/>
<rect x="923.69" y="3054.00" width="34" height="6.00" rx="2" fill="#000"/>
<rect x="992.56" y="2958.40" width="34" height="101.60" rx="2" fill="#000"/>
<rect x="998.56" y="2965.40" width="22.00" height="89.60" fill="#00ccff"/>
<polyline points="251.94,2949.60 320.81,2993.00 389.69,2903.10 458.56,2808.70 527.44,2763.30 596.31,2708.40 665.19,2709.90 734.06,2706.40 802.94,2750.80 871.81,2840.70 940.69,2908.60 1009.56,2914.60" fill="none" stroke="#ff0000" stroke-width="7" stroke-linejoin="round"/>
<polygon points="249.74,2936.30 254.14,2936.30 263.94,2947.40 263.94,2951.80 254.14,2962.90 249.74,2962.90 239.94,2951.80 239.94,2947.40" fill="#000080"/>
<polygon points="251.94,2945.20 256.04,2949.60 251.94,2954.00 247.84,2949.60" fill="#ff0000"/>
<polygon points="318.61,2979.70 323.01,2979.70 332.81,2990.80 332.81,2995.20 323.01,3006.30 318.61,3006.30 308.81,2995.20 308.81,2990.80" fill="#000080"/>
<polygon points="320.81,2988.60 324.91,2993.00 320.81,2997.40 316.71,2993.00" fill="#ff0000"/>
<polygon points="387.49,2889.80 391.89,2889.80 401.69,2900.90 401.69,2905.30 391.89,2916.40 387.49,2916.40 377.69,2905.30 377.69,2900.90" fill="#000080"/>
<polygon points="389.69,2898.70 393.79,2903.10 389.69,2907.50 385.59,2903.10" fill="#ff0000"/>
<polygon points="456.36,2795.40 460.76,2795.40 470.56,2806.50 470.56,2810.90 460.76,2822.00 456.36,2822.00 446.56,2810.90 446.56,2806.50" fill="#000080"/>
<polygon points="458.56,2804.30 462.66,2808.70 458.56,2813.10 454.46,2808.70" fill="#ff0000"/>
<polygon points="525.24,2750.00 529.64,2750.00 539.44,2761.10 539.44,2765.50 529.64,2776.60 525.24,2776.60 515.44,2765.50 515.44,2761.10" fill="#000080"/>
<polygon points="527.44,2758.90 531.54,2763.30 527.44,2767.70 523.34,2763.30" fill="#ff0000"/>
<polygon points="594.11,2695.10 598.51,2695.10 608.31,2706.20 608.31,2710.60 598.51,2721.70 594.11,2721.70 584.31,2710.60 584.31,2706.20" fill="#000080"/>
<polygon points="596.31,2704.00 600.41,2708.40 596.31,2712.80 592.21,2708.40" fill="#ff0000"/>
<polygon points="662.99,2696.60 667.39,2696.60 677.19,2707.70 677.19,2712.10 667.39,2723.20 662.99,2723.20 653.19,2712.10 653.19,2707.70" fill="#000080"/>
<polygon points="665.19,2705.50 669.29,2709.90 665.19,2714.30 661.09,2709.90" fill="#ff0000"/>
<polygon points="731.86,2693.10 736.26,2693.10 746.06,2704.20 746.06,2708.60 736.26,2719.70 731.86,2719.70 722.06,2708.60 722.06,2704.20" fill="#000080"/>
<polygon points="734.06,2702.00 738.16,2706.40 734.06,2710.80 729.96,2706.40" fill="#ff0000"/>
<polygon points="800.74,2737.50 805.14,2737.50 814.94,2748.60 814.94,2753.00 805.14,2764.10 800.74,2764.10 790.94,2753.00 790.94,2748.60" fill="#000080"/>
<polygon points="802.94,2746.40 807.04,2750.80 802.94,2755.20 798.84,2750.80" fill="#ff0000"/>
<polygon points="869.61,2827.40 874.01,2827.40 883.81,2838.50 883.81,2842.90 874.01,2854.00 869.61,2854.00 859.81,2842.90 859.81,2838.50" fill="#000080"/>
<polygon points="871.81,2836.30 875.91,2840.70 871.81,2845.10 867.71,2840.70" fill="#ff0000"/>
<polygon points="938.49,2895.30 942.89,2895.30 952.69,2906.40 952.69,2910.80 942.89,2921.90 938.49,2921.90 928.69,2910.80 928.69,2906.40" fill="#000080"/>
<polygon points="940.69,2904.20 944.79,2908.60 940.69,2913.00 936.59,2908.60" fill="#ff0000"/>
<polygon points="1007.36,2901.30 1011.76,2901.30 1021.56,2912.40 1021.56,2916.80 1011.76,2927.90 1007.36,2927.90 997.56,2916.80 997.56,2912.40" fill="#000080"/>
<polygon points="1009.56,2910.20 1013.66,2914.60 1009.56,2919.00 1005.46,2914.60" fill="#ff0000"/>
<text transform="translate(107.94,2574.28) scale(0.8650,1)" font-size="52.70">200</text>
<text transform="translate(1077.47,2574.28) scale(0.8650,1)" font-size="52.70">30,0</text>
<path transform="translate(107.94,2699.08) scale(0.02226,-0.02463)" d="M763,0L583,0L583,1147C540,1106 483,1064 413,1023C342,982 279,951 223,930L223,1104C324,1151 412,1209 487,1276C562,1343 615,1409 646,1472L763,1472Z"/>
<text transform="translate(133.29,2699.08) scale(0.8650,1)" font-size="52.70">5</text>
<text transform="translate(158.65,2699.08) scale(0.8650,1)" font-size="52.70">0</text>
<text transform="translate(1077.47,2699.08) scale(0.8650,1)" font-size="52.70">20,0</text>
<path transform="translate(107.94,2824.98) scale(0.02226,-0.02463)" d="M763,0L583,0L583,1147C540,1106 483,1064 413,1023C342,982 279,951 223,930L223,1104C324,1151 412,1209 487,1276C562,1343 615,1409 646,1472L763,1472Z"/>
<text transform="translate(133.29,2824.98) scale(0.8650,1)" font-size="52.70">0</text>
<text transform="translate(158.65,2824.98) scale(0.8650,1)" font-size="52.70">0</text>
<path transform="translate(1077.47,2824.98) scale(0.02226,-0.02463)" d="M763,0L583,0L583,1147C540,1106 483,1064 413,1023C342,982 279,951 223,930L223,1104C324,1151 412,1209 487,1276C562,1343 615,1409 646,1472L763,1472Z"/>
<text transform="translate(1102.82,2824.98) scale(0.8650,1)" font-size="52.70">0</text>
<text transform="translate(1128.17,2824.98) scale(0.8650,1)" font-size="52.70">,</text>
<text transform="translate(1140.84,2824.98) scale(0.8650,1)" font-size="52.70">0</text>
<text transform="translate(133.29,2949.78) scale(0.8650,1)" font-size="52.70">50</text>
<text transform="translate(1077.47,2949.78) scale(0.8650,1)" font-size="52.70">0,0</text>
<text transform="translate(158.63,3075.68) scale(0.8650,1)" font-size="52.70">0</text>
<text transform="translate(1077.47,3075.68) scale(0.8650,1)" font-size="52.70">-</text>
<path transform="translate(1092.65,3075.68) scale(0.02226,-0.02463)" d="M763,0L583,0L583,1147C540,1106 483,1064 413,1023C342,982 279,951 223,930L223,1104C324,1151 412,1209 487,1276C562,1343 615,1409 646,1472L763,1472Z"/>
<text transform="translate(1118.00,3075.68) scale(0.8650,1)" font-size="52.70">0</text>
<text transform="translate(1143.35,3075.68) scale(0.8650,1)" font-size="52.70">,</text>
<text transform="translate(1156.02,3075.68) scale(0.8650,1)" font-size="52.70">0</text>
<text transform="translate(247.77,3137.69) scale(0.8000,1)" font-size="46.50">I</text>
<text transform="translate(311.47,3137.69) scale(0.8000,1)" font-size="46.50">II</text>
<text transform="translate(375.18,3137.69) scale(0.8000,1)" font-size="46.50">III</text>
<text transform="translate(440.37,3137.69) scale(0.8000,1)" font-size="46.50">IV</text>
<text transform="translate(516.03,3137.69) scale(0.8000,1)" font-size="46.50">V</text>
<text transform="translate(581.35,3137.69) scale(0.8000,1)" font-size="46.50">VI</text>
<text transform="translate(645.06,3137.69) scale(0.8000,1)" font-size="46.50">VII</text>
<text transform="translate(708.76,3137.69) scale(0.8000,1)" font-size="46.50">VIII</text>
<text transform="translate(785.04,3137.69) scale(0.8000,1)" font-size="46.50">IX</text>
<text transform="translate(860.37,3137.69) scale(0.8000,1)" font-size="46.50">X</text>
<text transform="translate(925.39,3137.69) scale(0.8000,1)" font-size="46.50">XI</text>
<text transform="translate(989.10,3137.69) scale(0.8000,1)" font-size="46.50">XII</text>
<text transform="translate(187.74,2517.10) scale(0.8701,1)" font-size="53.35">mm</text>
<text transform="translate(637.75,2535.98) scale(0.9007,1)" font-size="62.18">d</text>
<text transform="translate(1015.09,2517.45) scale(0.8251,1)" font-size="54.80">°C</text>
<rect x="217.00" y="3374.00" width="1.00" height="514.50" fill="#000"/>
<rect x="1049.00" y="3374.00" width="2.00" height="514.50" fill="#000"/>
<rect x="203.00" y="3374.00" width="29.00" height="2.00" fill="#000"/>
<rect x="1036.00" y="3374.00" width="28.00" height="2.00" fill="#000"/>
<rect x="203.00" y="3499.00" width="29.00" height="2.00" fill="#000"/>
<rect x="1036.00" y="3499.00" width="28.00" height="2.00" fill="#000"/>
<rect x="203.00" y="3624.00" width="29.00" height="1.00" fill="#000"/>
<rect x="1036.00" y="3624.00" width="28.00" height="1.00" fill="#000"/>
<rect x="203.00" y="3748.00" width="29.00" height="1.00" fill="#000"/>
<rect x="1036.00" y="3748.00" width="28.00" height="1.00" fill="#000"/>
<rect x="203.00" y="3873.00" width="861.00" height="1.00" fill="#000"/>
<rect x="286.00" y="3859.50" width="1.30" height="29.00" fill="#000"/>
<rect x="356.00" y="3859.50" width="1.30" height="29.00" fill="#000"/>
<rect x="425.00" y="3859.50" width="1.30" height="29.00" fill="#000"/>
<rect x="494.00" y="3859.50" width="1.30" height="29.00" fill="#000"/>
<rect x="564.00" y="3859.50" width="1.30" height="29.00" fill="#000"/>
<rect x="633.00" y="3859.50" width="1.30" height="29.00" fill="#000"/>
<rect x="703.00" y="3859.50" width="1.30" height="29.00" fill="#000"/>
<rect x="772.00" y="3859.50" width="1.30" height="29.00" fill="#000"/>
<rect x="841.00" y="3859.50" width="1.30" height="29.00" fill="#000"/>
<rect x="911.00" y="3859.50" width="1.30" height="29.00" fill="#000"/>
<rect x="980.00" y="3859.50" width="1.30" height="29.00" fill="#000"/>
<rect x="235.19" y="3762.40" width="34" height="111.60" rx="2" fill="#000"/>
<rect x="241.19" y="3769.40" width="22.00" height="100.60" fill="#00ccff"/>
<rect x="304.56" y="3821.30" width="34" height="52.70" rx="2" fill="#000"/>
<rect x="310.56" y="3828.30" width="22.00" height="41.70" fill="#00ccff"/>
<rect x="373.94" y="3801.30" width="34" height="72.70" rx="2" fill="#000"/>
<rect x="379.94" y="3808.30" width="22.00" height="61.70" fill="#00ccff"/>
<rect x="443.31" y="3792.30" width="34" height="81.70" rx="2" fill="#000"/>
<rect x="449.31" y="3799.30" width="22.00" height="70.70" fill="#00ccff"/>
<rect x="512.69" y="3785.90" width="34" height="88.10" rx="2" fill="#000"/>
<rect x="518.69" y="3792.90" width="22.00" height="77.10" fill="#00ccff"/>
<rect x="582.06" y="3700.00" width="34" height="174.00" rx="2" fill="#000"/>
<rect x="588.06" y="3707.00" width="22.00" height="163.00" fill="#00ccff"/>
<rect x="651.44" y="3725.90" width="34" height="148.10" rx="2" fill="#000"/>
<rect x="657.44" y="3732.90" width="22.00" height="137.10" fill="#00ccff"/>
<rect x="720.81" y="3759.90" width="34" height="114.10" rx="2" fill="#000"/>
<rect x="726.81" y="3766.90" width="22.00" height="103.10" fill="#00ccff"/>
<rect x="790.19" y="3777.40" width="34" height="96.60" rx="2" fill="#000"/>
<rect x="796.19" y="3784.40" width="22.00" height="85.60" fill="#00ccff"/>
<rect x="859.56" y="3653.50" width="34" height="220.50" rx="2" fill="#000"/>
<rect x="865.56" y="3660.50" width="22.00" height="209.50" fill="#00ccff"/>
<rect x="928.94" y="3812.30" width="34" height="61.70" rx="2" fill="#000"/>
<rect x="934.94" y="3819.30" width="22.00" height="50.70" fill="#00ccff"/>
<rect x="998.31" y="3801.30" width="34" height="72.70" rx="2" fill="#000"/>
<rect x="1004.31" y="3808.30" width="22.00" height="61.70" fill="#00ccff"/>
<polyline points="252.19,3776.10 321.56,3842.00 390.94,3697.20 460.31,3634.70 529.69,3565.80 599.06,3539.90 668.44,3488.90 737.81,3518.40 807.19,3569.80 876.56,3653.70 945.94,3683.70 1015.31,3799.50" fill="none" stroke="#ff0000" stroke-width="7" stroke-linejoin="round"/>
<polygon points="249.99,3762.80 254.39,3762.80 264.19,3773.90 264.19,3778.30 254.39,3789.40 249.99,3789.40 240.19,3778.30 240.19,3773.90" fill="#000080"/>
<polygon points="252.19,3771.70 256.29,3776.10 252.19,3780.50 248.09,3776.10" fill="#ff0000"/>
<polygon points="319.36,3828.70 323.76,3828.70 333.56,3839.80 333.56,3844.20 323.76,3855.30 319.36,3855.30 309.56,3844.20 309.56,3839.80" fill="#000080"/>
<polygon points="321.56,3837.60 325.66,3842.00 321.56,3846.40 317.46,3842.00" fill="#ff0000"/>
<polygon points="388.74,3683.90 393.14,3683.90 402.94,3695.00 402.94,3699.40 393.14,3710.50 388.74,3710.50 378.94,3699.40 378.94,3695.00" fill="#000080"/>
<polygon points="390.94,3692.80 395.04,3697.20 390.94,3701.60 386.84,3697.20" fill="#ff0000"/>
<polygon points="458.11,3621.40 462.51,3621.40 472.31,3632.50 472.31,3636.90 462.51,3648.00 458.11,3648.00 448.31,3636.90 448.31,3632.50" fill="#000080"/>
<polygon points="460.31,3630.30 464.41,3634.70 460.31,3639.10 456.21,3634.70" fill="#ff0000"/>
<polygon points="527.49,3552.50 531.89,3552.50 541.69,3563.60 541.69,3568.00 531.89,3579.10 527.49,3579.10 517.69,3568.00 517.69,3563.60" fill="#000080"/>
<polygon points="529.69,3561.40 533.79,3565.80 529.69,3570.20 525.59,3565.80" fill="#ff0000"/>
<polygon points="596.86,3526.60 601.26,3526.60 611.06,3537.70 611.06,3542.10 601.26,3553.20 596.86,3553.20 587.06,3542.10 587.06,3537.70" fill="#000080"/>
<polygon points="599.06,3535.50 603.16,3539.90 599.06,3544.30 594.96,3539.90" fill="#ff0000"/>
<polygon points="666.24,3475.60 670.64,3475.60 680.44,3486.70 680.44,3491.10 670.64,3502.20 666.24,3502.20 656.44,3491.10 656.44,3486.70" fill="#000080"/>
<polygon points="668.44,3484.50 672.54,3488.90 668.44,3493.30 664.34,3488.90" fill="#ff0000"/>
<polygon points="735.61,3505.10 740.01,3505.10 749.81,3516.20 749.81,3520.60 740.01,3531.70 735.61,3531.70 725.81,3520.60 725.81,3516.20" fill="#000080"/>
<polygon points="737.81,3514.00 741.91,3518.40 737.81,3522.80 733.71,3518.40" fill="#ff0000"/>
<polygon points="804.99,3556.50 809.39,3556.50 819.19,3567.60 819.19,3572.00 809.39,3583.10 804.99,3583.10 795.19,3572.00 795.19,3567.60" fill="#000080"/>
<polygon points="807.19,3565.40 811.29,3569.80 807.19,3574.20 803.09,3569.80" fill="#ff0000"/>
<polygon points="874.36,3640.40 878.76,3640.40 888.56,3651.50 888.56,3655.90 878.76,3667.00 874.36,3667.00 864.56,3655.90 864.56,3651.50" fill="#000080"/>
<polygon points="876.56,3649.30 880.66,3653.70 876.56,3658.10 872.46,3653.70" fill="#ff0000"/>
<polygon points="943.74,3670.40 948.14,3670.40 957.94,3681.50 957.94,3685.90 948.14,3697.00 943.74,3697.00 933.94,3685.90 933.94,3681.50" fill="#000080"/>
<polygon points="945.94,3679.30 950.04,3683.70 945.94,3688.10 941.84,3683.70" fill="#ff0000"/>
<polygon points="1013.11,3786.20 1017.51,3786.20 1027.31,3797.30 1027.31,3801.70 1017.51,3812.80 1013.11,3812.80 1003.31,3801.70 1003.31,3797.30" fill="#000080"/>
<polygon points="1015.31,3795.10 1019.41,3799.50 1015.31,3803.90 1011.21,3799.50" fill="#ff0000"/>
<text transform="translate(107.94,3390.78) scale(0.8650,1)" font-size="52.70">200</text>
<text transform="translate(1083.47,3390.78) scale(0.8650,1)" font-size="52.70">30,0</text>
<path transform="translate(107.94,3515.78) scale(0.02226,-0.02463)" d="M763,0L583,0L583,1147C540,1106 483,1064 413,1023C342,982 279,951 223,930L223,1104C324,1151 412,1209 487,1276C562,1343 615,1409 646,1472L763,1472Z"/>
<text transform="translate(133.29,3515.78) scale(0.8650,1)" font-size="52.70">5</text>
<text transform="translate(158.65,3515.78) scale(0.8650,1)" font-size="52.70">0</text>
<text transform="translate(1083.47,3515.78) scale(0.8650,1)" font-size="52.70">20,0</text>
<path transform="translate(107.94,3640.08) scale(0.02226,-0.02463)" d="M763,0L583,0L583,1147C540,1106 483,1064 413,1023C342,982 279,951 223,930L223,1104C324,1151 412,1209 487,1276C562,1343 615,1409 646,1472L763,1472Z"/>
<text transform="translate(133.29,3640.08) scale(0.8650,1)" font-size="52.70">0</text>
<text transform="translate(158.65,3640.08) scale(0.8650,1)" font-size="52.70">0</text>
<path transform="translate(1083.47,3640.08) scale(0.02226,-0.02463)" d="M763,0L583,0L583,1147C540,1106 483,1064 413,1023C342,982 279,951 223,930L223,1104C324,1151 412,1209 487,1276C562,1343 615,1409 646,1472L763,1472Z"/>
<text transform="translate(1108.82,3640.08) scale(0.8650,1)" font-size="52.70">0</text>
<text transform="translate(1134.17,3640.08) scale(0.8650,1)" font-size="52.70">,</text>
<text transform="translate(1146.84,3640.08) scale(0.8650,1)" font-size="52.70">0</text>
<text transform="translate(133.29,3764.98) scale(0.8650,1)" font-size="52.70">50</text>
<text transform="translate(1083.47,3764.98) scale(0.8650,1)" font-size="52.70">0,0</text>
<text transform="translate(158.63,3889.88) scale(0.8650,1)" font-size="52.70">0</text>
<text transform="translate(1083.47,3889.88) scale(0.8650,1)" font-size="52.70">-</text>
<path transform="translate(1098.65,3889.88) scale(0.02226,-0.02463)" d="M763,0L583,0L583,1147C540,1106 483,1064 413,1023C342,982 279,951 223,930L223,1104C324,1151 412,1209 487,1276C562,1343 615,1409 646,1472L763,1472Z"/>
<text transform="translate(1124.00,3889.88) scale(0.8650,1)" font-size="52.70">0</text>
<text transform="translate(1149.35,3889.88) scale(0.8650,1)" font-size="52.70">,</text>
<text transform="translate(1162.02,3889.88) scale(0.8650,1)" font-size="52.70">0</text>
<text transform="translate(248.02,3952.69) scale(0.8000,1)" font-size="46.50">I</text>
<text transform="translate(312.22,3952.69) scale(0.8000,1)" font-size="46.50">II</text>
<text transform="translate(376.43,3952.69) scale(0.8000,1)" font-size="46.50">III</text>
<text transform="translate(442.12,3952.69) scale(0.8000,1)" font-size="46.50">IV</text>
<text transform="translate(518.28,3952.69) scale(0.8000,1)" font-size="46.50">V</text>
<text transform="translate(584.10,3952.69) scale(0.8000,1)" font-size="46.50">VI</text>
<text transform="translate(648.31,3952.69) scale(0.8000,1)" font-size="46.50">VII</text>
<text transform="translate(712.51,3952.69) scale(0.8000,1)" font-size="46.50">VIII</text>
<text transform="translate(789.29,3952.69) scale(0.8000,1)" font-size="46.50">IX</text>
<text transform="translate(865.12,3952.69) scale(0.8000,1)" font-size="46.50">X</text>
<text transform="translate(930.64,3952.69) scale(0.8000,1)" font-size="46.50">XI</text>
<text transform="translate(994.85,3952.69) scale(0.8000,1)" font-size="46.50">XII</text>
<text transform="translate(191.67,3323.80) scale(0.8603,1)" font-size="53.35">mm</text>
<text transform="translate(631.67,3361.26) scale(0.9035,1)" font-size="64.05">e</text>
<text transform="translate(1017.20,3324.15) scale(0.8215,1)" font-size="54.80">°C</text>
<text transform="translate(477.91,4023.69) scale(0.8778,1)" font-size="51.29">Month</text>
<rect x="741" y="4036" width="107" height="37" rx="2.5" fill="#000"/>
<rect x="747.00" y="4043.00" width="94.00" height="23.00" fill="#00ccff"/>
<line x1="744" y1="4127.4" x2="844.5" y2="4127.4" stroke="#ff0000" stroke-width="6.5" stroke-linecap="round"/>
<polygon points="792.80,4114.00 797.20,4114.00 807.00,4125.10 807.00,4129.50 797.20,4140.60 792.80,4140.60 783.00,4129.50 783.00,4125.10" fill="#000080"/>
<polygon points="795.00,4122.90 799.10,4127.30 795.00,4131.70 790.90,4127.30" fill="#ff0000"/>
<text transform="translate(857.09,4072.90) scale(0.8435,1)" font-size="53.63">Precipitation</text>
<text transform="translate(856.81,4147.00) scale(0.8425,1)" font-size="53.78">Air temperature</text>
</g>
</svg>
</body></html>
